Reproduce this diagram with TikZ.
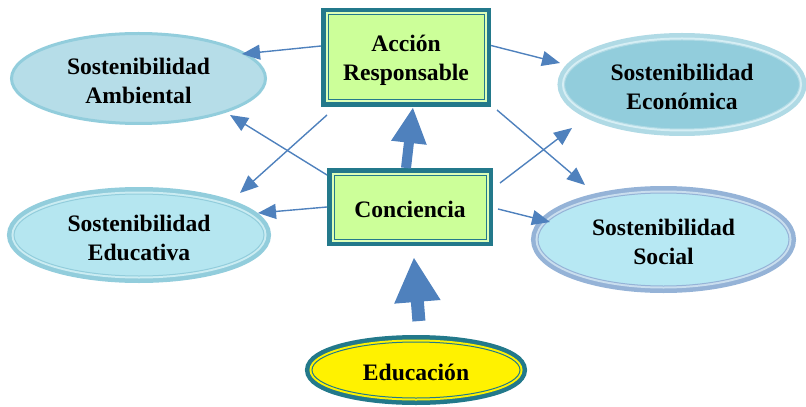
\documentclass[tikz,border=0pt]{standalone}
\usepackage{fontspec}
\setmainfont{Liberation Serif}
\usetikzlibrary{arrows.meta,shapes.geometric}
\definecolor{tealrim}{HTML}{23798B}
\definecolor{boxgreen}{HTML}{CCFF99}
\definecolor{gapgreen}{HTML}{DDFFB8}
\definecolor{arrowblue}{HTML}{4F81BD}
\definecolor{ambfill}{HTML}{B6DDE8}
\definecolor{ambrim}{HTML}{92CDDC}
\definecolor{edufill}{HTML}{B5E6F0}
\definecolor{edugap}{HTML}{CBECF2}
\definecolor{ecofill}{HTML}{92CDDC}
\definecolor{ecorim}{HTML}{B0DAE5}
\definecolor{ecogap}{HTML}{D6EEF4}
\definecolor{socfill}{HTML}{B7E8F3}
\definecolor{socrim}{HTML}{95B3D7}
\definecolor{socgap}{HTML}{CADEEE}
\newcommand{\padtop}{\rule{0pt}{11pt}}
\tikzset{
  rimmed/.style n args={3}{preaction={draw=#1,line width=7pt},preaction={draw=#2,line width=2.5pt},draw=#3,line width=0.5pt,outer sep=3.5pt},
  label font/.style={font=\fontsize{11.8}{14.5}\selectfont\bfseries,align=center,inner sep=0pt},
  actbox/.style={rectangle,label font,fill=boxgreen,rimmed={tealrim}{gapgreen}{tealrim}},
  oval/.style={ellipse,label font,inner sep=0pt},
  link/.style={draw=arrowblue,line width=0.7pt,-{Triangle[length=9pt,width=7.5pt]}},
  bigarrow/.style n args={3}{draw=arrowblue,line width=#1,-{Triangle[length=#2,width=#3]}}
}
\begin{document}
\begin{tikzpicture}[x=0.5pt,y=-0.5pt]
 \useasboundingbox (0,0) rectangle (806,406);
 % central boxes
 \node[actbox,minimum width=78pt,minimum height=42.5pt] (accion) at (406,57.5) {\padtop Acción\\Responsable};
 \node[actbox,minimum width=76pt,minimum height=32pt] (conciencia) at (410,207) {\padtop Conciencia};
 %
 \node[oval,fill=ambfill,draw=ambrim,line width=1.5pt,outer sep=0.75pt,minimum width=127pt,minimum height=45pt] (ambiental) at (138.5,78.5) {\padtop Sostenibilidad\\Ambiental};
 \node[oval,fill=edufill,rimmed={ambrim}{edugap}{ambrim},minimum width=125pt,minimum height=41pt] (educativa) at (139,235) {\padtop Sostenibilidad\\Educativa};
 \node[oval,fill=ecofill,rimmed={ecorim}{ecogap}{ecorim},minimum width=117.5pt,minimum height=44.5pt] (economica) at (682,84.5) {\padtop Sostenibilidad\\Económica};
 \node[oval,fill=socfill,rimmed={socrim}{socgap}{socrim},minimum width=125.5pt,minimum height=46.5pt] (social) at (663.5,239.5) {\padtop Sostenibilidad\\Social};
 \node[oval,fill=yellow,rimmed={tealrim}{yellow}{tealrim},minimum width=104pt,minimum height=28pt] (educacion) at (416,370) {\padtop Educación};
 %
 \draw[link] ([yshift=5.75pt]accion.west) -- ([shift={(51.75pt,12.25pt)}]ambiental.center);
 \draw[link] ([yshift=6pt]accion.east) -- ([shift={(-61pt,10.75pt)}]economica.center);
 \draw[link] ([shift={(3pt,-4pt)}]accion.south west) -- ([shift={(50.5pt,21pt)}]educativa.center);
 \draw[link] ([shift={(3pt,-1.5pt)}]accion.south east) -- ([shift={(-39.25pt,27.25pt)}]social.center);
 %
 \draw[link] ([yshift=-3.5pt]conciencia.north west) -- ([shift={(45.75pt,-18.25pt)}]ambiental.center);
 \draw[link] ([shift={(3.5pt,-7.5pt)}]conciencia.north east) -- ([shift={(-55pt,-21.75pt)}]economica.center);
 \draw[link] (conciencia.west) -- ([shift={(59.5pt,11pt)}]educativa.center);
 \draw[link] ([shift={(2.5pt,-1pt)}]conciencia.east) -- ([shift={(-56.75pt,8.75pt)}]social.center);
 %
 \draw[bigarrow={5pt}{18pt}{16.5pt}] ([xshift=-2pt]conciencia.north) -- ([xshift=3.5pt]accion.south);
 \draw[bigarrow={6.5pt}{22.5pt}{21.5pt},shorten <=7pt,shorten >=5.5pt] ([xshift=2pt]educacion.north) -- ([xshift=1.5pt]conciencia.south);
\end{tikzpicture}
\end{document}
